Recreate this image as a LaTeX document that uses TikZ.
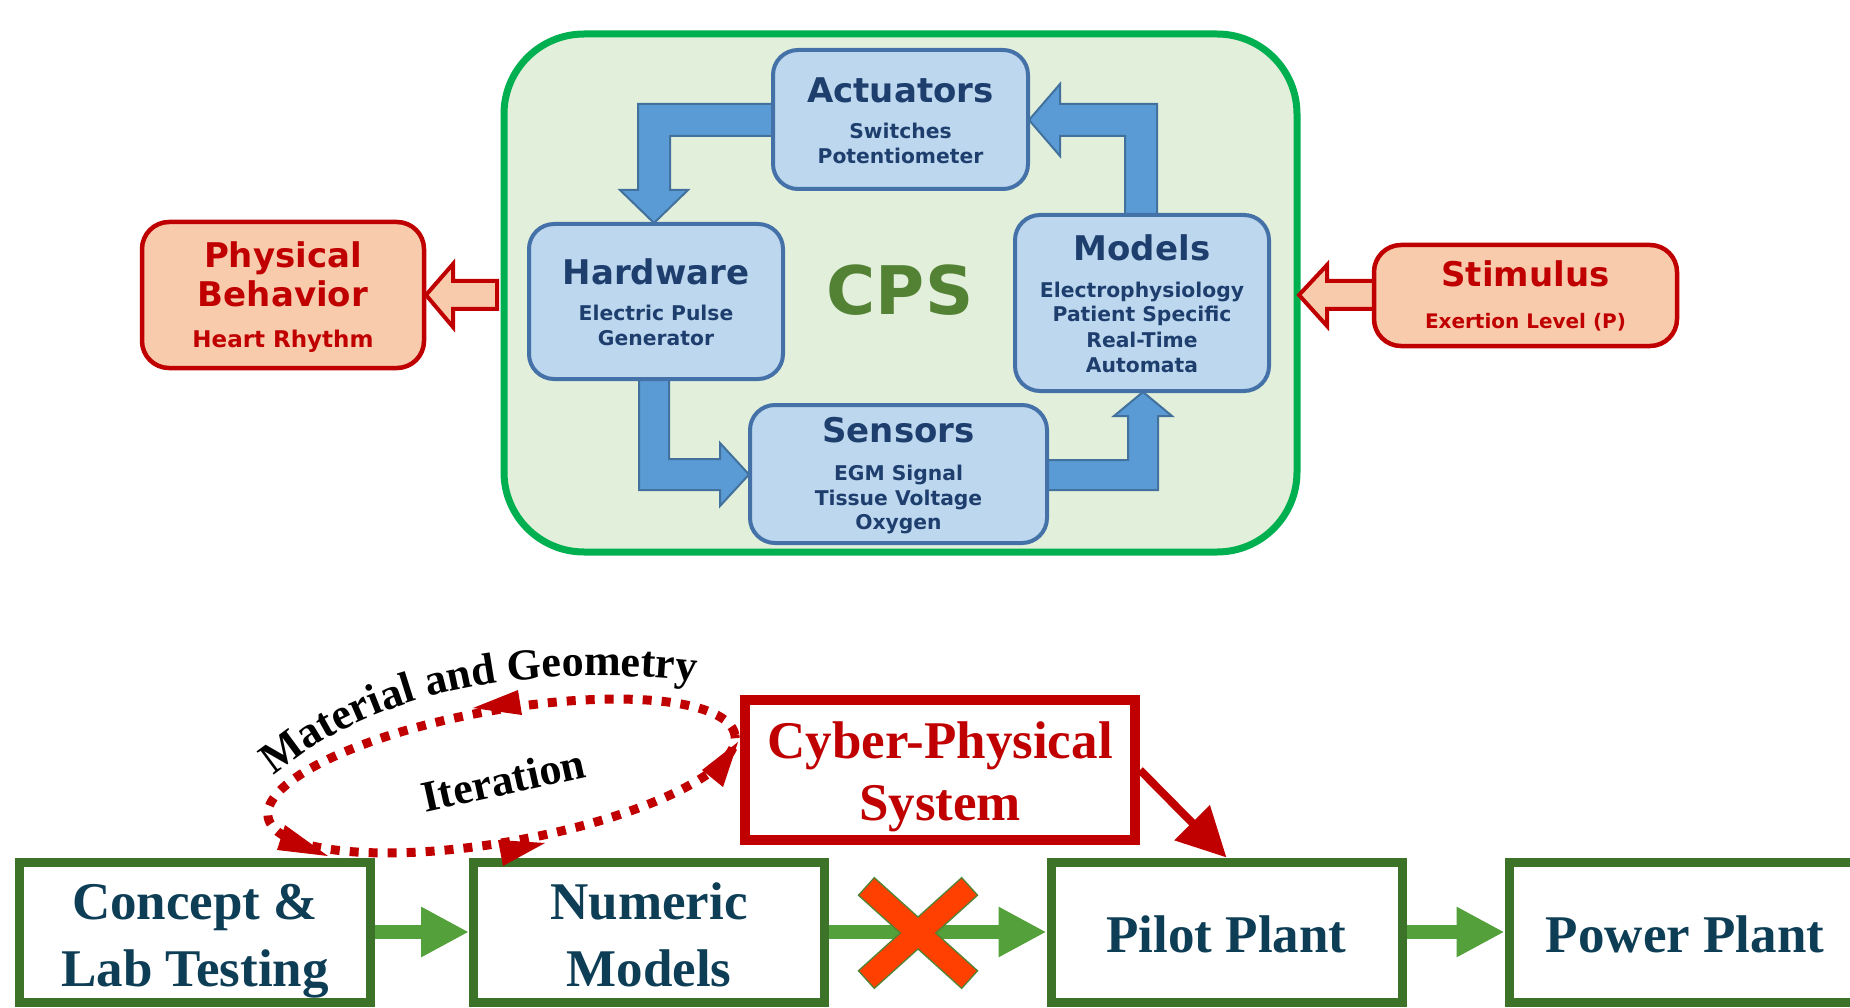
\documentclass[tikz,border=0pt]{standalone}
\usepackage{fontspec}
\setmainfont{Liberation Serif}
\newfontfamily\dvsans{DejaVu Sans}
\usetikzlibrary{arrows.meta,decorations.text}
\definecolor{gbfill}{RGB}{226,239,218}
\definecolor{gbline}{RGB}{0,176,80}
\definecolor{bbfill}{RGB}{189,215,238}
\definecolor{bbline}{RGB}{68,114,168}
\definecolor{bbtext}{RGB}{30,62,110}
\definecolor{arfill}{RGB}{91,155,213}
\definecolor{arline}{RGB}{65,113,156}
\definecolor{cpsgreen}{RGB}{84,130,53}
\definecolor{salfill}{RGB}{248,203,173}
\definecolor{dred}{RGB}{192,0,0}
\definecolor{stgreen}{RGB}{61,115,40}
\definecolor{sttext}{RGB}{13,62,86}
\definecolor{argreen}{RGB}{84,160,58}
\definecolor{xred}{RGB}{255,64,0}
\begin{document}
\begin{tikzpicture}[x=1pt,y=-1pt,
  bluebox/.style={draw=bbline, fill=bbfill, line width=4pt, rounded corners=25pt, inner sep=0pt},
  salbox/.style={draw=dred, fill=salfill, line width=4.5pt, rounded corners=27pt, inner sep=0pt},
  stagebox/.style={draw=stgreen, line width=9pt, minimum width=351pt, minimum height=140pt, inner sep=0pt},
  headtxt/.style={font=\dvsans\bfseries\fontsize{34}{40}\selectfont, text=bbtext, anchor=base, inner sep=0pt},
  subtxt/.style={font=\dvsans\bfseries\fontsize{20.3}{24}\selectfont, text=bbtext, anchor=base, inner sep=0pt},
  redhead/.style={font=\dvsans\bfseries\fontsize{34}{40}\selectfont, text=dred, anchor=base, inner sep=0pt},
  stagetxt/.style={font=\bfseries\fontsize{53}{60}\selectfont, text=sttext, anchor=base, inner sep=0pt},
  blockarrow/.style={fill=arfill, draw=arline, line width=2pt, line join=miter},
  hollowarrow/.style={fill=salfill, draw=dred, line width=4pt, line join=miter},
  greenarr/.style={draw=argreen, line width=14pt, -{Triangle[length=48pt,width=47pt]}},
  dothead/.style={fill=dred}
]
\clip (0,0) rectangle (1850,1008);
\fill[white] (0,0) rectangle (1850,1008);

% ---------- CPS frame ----------
\node[draw=gbline, fill=gbfill, line width=7pt, rounded corners=80pt,
      minimum width=793pt, minimum height=518pt, inner sep=0pt] (frame) at (900.5,293) {};

% block arrows
\path[blockarrow] (790,104) -- (638,104) -- (638,190) -- (620,190) -- (654,223) -- (688,190) -- (670,190) -- (670,136) -- (790,136) -- cycle;
\path[blockarrow] (639,370) -- (639,490) -- (720,490) -- (720,506) -- (749,474.5) -- (720,443) -- (720,459) -- (669,459) -- (669,370) -- cycle;
\path[blockarrow] (1040,460) -- (1128,460) -- (1128,416) -- (1114,416) -- (1143,392) -- (1172,416) -- (1158,416) -- (1158,490) -- (1040,490) -- cycle;
\path[blockarrow] (1125,225) -- (1125,136) -- (1060,136) -- (1060,156) -- (1029,120) -- (1060,84) -- (1060,104) -- (1157,104) -- (1157,225) -- cycle;

% blue boxes
\node[bluebox, minimum width=255pt, minimum height=139pt] (act) at (900.5,119.5) {};
\node[bluebox, minimum width=254pt, minimum height=155pt] (hw) at (656,301.5) {};
\node[bluebox, minimum width=254pt, minimum height=176pt] (mod) at (1142,303) {};
\node[bluebox, minimum width=297pt, minimum height=138pt] (sen) at (898.5,474) {};

\node[headtxt] (actT) at (900.5,103) {Actuators};
\node[subtxt] (actS1) at (900.5,139) {Switches};
\node[subtxt] (actS2) at (900.5,164) {Potentiometer};

\node[headtxt] (hwT) at (656,285) {Hardware};
\node[subtxt] (hwS1) at (656,321) {Electric Pulse};
\node[subtxt] (hwS2) at (656,345) {Generator};

\node[headtxt] (modT) at (1142,261) {Models};
\node[subtxt] (modS1) at (1142,298) {Electrophysiology};
\node[subtxt] (modS2) at (1142,322) {Patient Specific};
\node[subtxt] (modS3) at (1142,347) {Real-Time};
\node[subtxt] (modS4) at (1142,372) {Automata};

\node[headtxt] (senT) at (898.5,442) {Sensors};
\node[subtxt] (senS1) at (898.5,480) {EGM Signal};
\node[subtxt] (senS2) at (898.5,505) {Tissue Voltage};
\node[subtxt] (senS3) at (898.5,529) {Oxygen};

\node[font=\dvsans\bfseries\fontsize{67}{70}\selectfont, text=cpsgreen, anchor=base, inner sep=0pt] (cpsT) at (900,315) {CPS};

% side boxes and hollow arrows
\path[hollowarrow] (497,281) -- (453,281) -- (453,264) -- (426,295) -- (453,327) -- (453,309) -- (497,309) -- cycle;
\path[hollowarrow] (1380,281) -- (1327,281) -- (1327,265) -- (1299,295) -- (1327,326) -- (1327,309) -- (1380,309) -- cycle;

\node[salbox, minimum width=282pt, minimum height=146pt] (phys) at (283,295) {};
\node[redhead] (physT1) at (283,268) {Physical};
\node[redhead] (physT2) at (283,307) {Behavior};
\node[font=\dvsans\bfseries\fontsize{23}{26}\selectfont, text=dred, anchor=base, inner sep=0pt] (physS) at (283,347) {Heart Rhythm};

\node[salbox, minimum width=303pt, minimum height=101pt] (stim) at (1525.5,295.5) {};
\node[redhead] (stimT) at (1525.5,287) {Stimulus};
\node[font=\dvsans\bfseries\fontsize{20}{24}\selectfont, text=dred, anchor=base, inner sep=0pt] (stimS) at (1525.5,328) {Exertion Level (P)};

% ---------- bottom pipeline ----------
\node[stagebox] (concept) at (194.5,932) {};
\node[stagebox] (numeric) at (649,932) {};
\node[stagebox] (pilot) at (1226.5,932) {};
\node[stagebox] (power) at (1684.5,932) {};

\node[stagetxt] (conceptT1) at (195,919) {Concept \&};
\node[stagetxt] (conceptT2) at (195,986) {Lab Testing};
\node[stagetxt] (numericT1) at (649,919) {Numeric};
\node[stagetxt] (numericT2) at (649,986) {Models};
\node[stagetxt] (pilotT) at (1226.5,952) {Pilot Plant};
\node[stagetxt] (powerT) at (1685,952) {Power Plant};

\draw[greenarr] (concept.east) -- (numeric.west);
\draw[greenarr] (numeric.east) -- (pilot.west);
\draw[greenarr] (pilot.east) -- (power.west);

% red cross
\draw[cpsgreen, line width=25pt, shorten <=-1.5pt, shorten >=-1.5pt] (867,887) -- (969,979);
\draw[cpsgreen, line width=25pt, shorten <=-1.5pt, shorten >=-1.5pt] (969,887) -- (867,979);
\draw[xred, line width=22pt] (867,887) -- (969,979);
\draw[xred, line width=22pt] (969,887) -- (867,979);

% cyber-physical system box
\node[draw=dred, line width=10pt, minimum width=390pt, minimum height=140pt, inner sep=0pt] (cpsbox) at (940,770) {};
\node[font=\bfseries\fontsize{53}{60}\selectfont, text=dred, anchor=base, inner sep=0pt] (cpsT1) at (940,758) {Cyber-Physical};
\node[font=\bfseries\fontsize{53}{60}\selectfont, text=dred, anchor=base, inner sep=0pt] (cpsT2) at (940,820) {System};
\draw[dred, line width=8pt, -{Triangle[length=49pt,width=48pt]}] (cpsbox.east) -- (pilot.north);

% dotted iteration loop
\draw[dred, line width=9pt, dash pattern=on 9pt off 10pt, rotate around={10:(501.5,776)}]
  (501.5,776) ellipse [x radius=237pt, y radius=66pt];
\fill[dothead] (518,690) -- (522,715) -- (473,708) -- cycle;
\fill[dothead] (702,770) -- (723,787) -- (738,742) -- cycle;
\fill[dothead] (285,825) -- (277,850) -- (328,856) -- cycle;
\fill[dothead] (498,840) -- (503,866) -- (545,843) -- cycle;

\path[decorate, decoration={text along path, text align=center,
   text={|\bfseries\fontsize{44}{44}\selectfont|Material and Geometry}}]
  (266,782) .. controls (360,700) and (500,660) .. (706,682);
\node[font=\bfseries\fontsize{44}{48}\selectfont, rotate=12.5, inner sep=0pt] (iterT) at (503,780) {Iteration};
\end{tikzpicture}
\end{document}
